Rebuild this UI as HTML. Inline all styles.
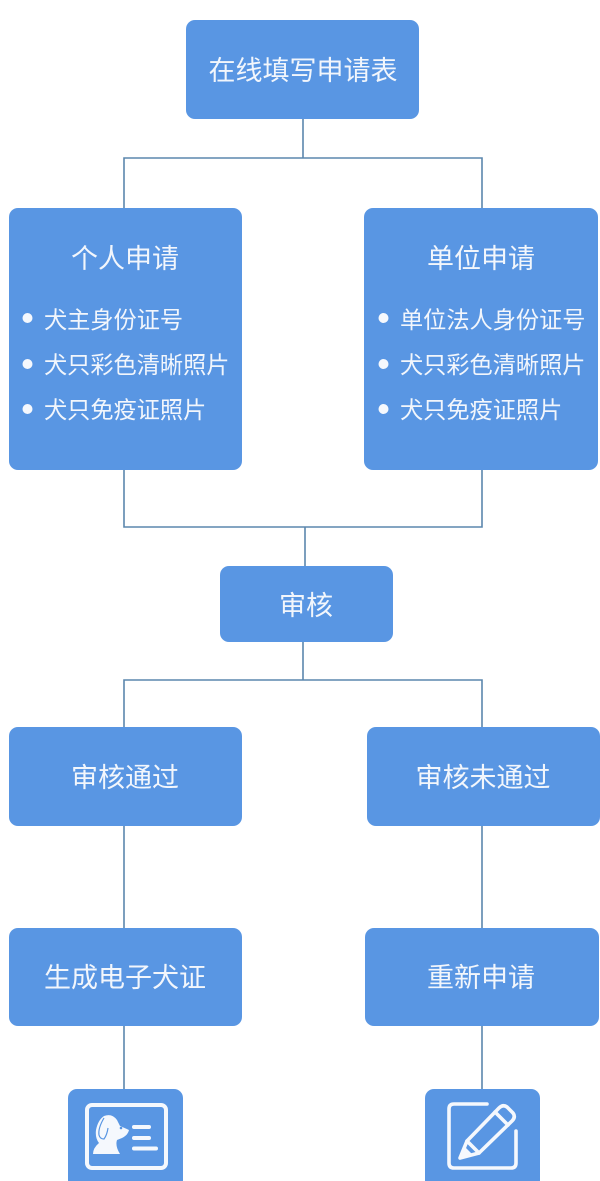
<!DOCTYPE html>
<html><head><meta charset="utf-8">
<style>
html,body{margin:0;padding:0;background:#fff}
svg{display:block}
text{font-family:"Liberation Sans","Noto Sans CJK SC",sans-serif;fill:#f2f6fc;text-anchor:middle}
.h{font-size:27px}
.l{font-size:23.2px;text-anchor:start}
</style></head>
<body>
<svg width="600" height="1181" viewBox="0 0 600 1181" xmlns="http://www.w3.org/2000/svg">
<g fill="none" stroke="#5b87ad" stroke-width="1.6">
<path d="M303 119V158M124 208V158H482V208"/>
<path d="M124 470V527H482V470M305 527V566"/>
<path d="M303 642V680M124 727V680H482V727"/>
<path d="M124 826V928M482 826V928"/>
<path d="M124 1026V1090M482 1026V1090"/>
</g>
<g fill="#5996e3">
<rect x="186" y="20" width="233" height="99" rx="9"/>
<rect x="9" y="208" width="233" height="262" rx="9"/>
<rect x="364" y="208" width="234" height="262" rx="9"/>
<rect x="220" y="566" width="173" height="76" rx="9"/>
<rect x="9" y="727" width="233" height="99" rx="9"/>
<rect x="367" y="727" width="233" height="99" rx="9"/>
<rect x="9" y="928" width="233" height="98" rx="9"/>
<rect x="365" y="928" width="234" height="98" rx="9"/>
<rect x="68" y="1089" width="115" height="100" rx="9"/>
<rect x="425" y="1089" width="115" height="100" rx="9"/>
</g>
<text class="h" x="303" y="80">在线填写申请表</text>
<text class="h" x="125" y="268">个人申请</text>
<text class="h" x="481" y="268">单位申请</text>
<text class="h" x="306" y="615">审核</text>
<text class="h" x="125" y="787">审核通过</text>
<text class="h" x="483" y="787">审核未通过</text>
<text class="h" x="125" y="987">生成电子犬证</text>
<text class="h" x="481" y="987">重新申请</text>
<g fill="#f5f8fd">
<circle cx="27.5" cy="318" r="5"/><circle cx="27.5" cy="364" r="5"/><circle cx="27.5" cy="409" r="5"/>
<circle cx="383.5" cy="318" r="5"/><circle cx="383.5" cy="364" r="5"/><circle cx="383.5" cy="409" r="5"/>
</g>
<text class="l" x="44" y="328">犬主身份证号</text>
<text class="l" x="44" y="373">犬只彩色清晰照片</text>
<text class="l" x="44" y="418">犬只免疫证照片</text>
<text class="l" x="400" y="328">单位法人身份证号</text>
<text class="l" x="400" y="373">犬只彩色清晰照片</text>
<text class="l" x="400" y="418">犬只免疫证照片</text>
<g fill="none" stroke="#f5f8fd" stroke-width="4" stroke-linecap="round" stroke-linejoin="round">
<rect x="87" y="1105" width="79" height="63" rx="5"/>
<path d="M134 1127H149M134 1138H149M134 1148.500H156"/>
</g>
<path fill="#f5f8fd" d="M93 1154Q93 1148 99 1143Q95 1138 96 1130Q98 1120 104 1116Q112 1113 117 1120L120 1126L129 1130Q128 1135 122 1138L117 1140Q115 1146 120 1154Z"/>
<path fill="none" stroke="#5996e3" stroke-width="1.2" d="M104 1118Q98 1128 99 1135Q100 1139 104 1139Q107 1135 108 1128"/>
<circle cx="121" cy="1128" r="1.300" fill="#5996e3"/>
<g fill="none" stroke="#f5f8fd" stroke-width="3.600" stroke-linecap="round" stroke-linejoin="round">
<path d="M487 1104H454Q449 1104 449 1109V1163Q449 1168 454 1168H511Q516 1168 516 1163V1131"/>
<path d="M460 1158L467 1141L499 1108Q503 1104 507 1107L513 1113Q516 1117 512 1121L479 1153Z"/>
<path d="M495 1112L508 1125M467 1141L479 1153"/>
</g>
<path fill="#f5f8fd" d="M459 1159L464 1146L472 1154Z"/>
</svg>
</body></html>
